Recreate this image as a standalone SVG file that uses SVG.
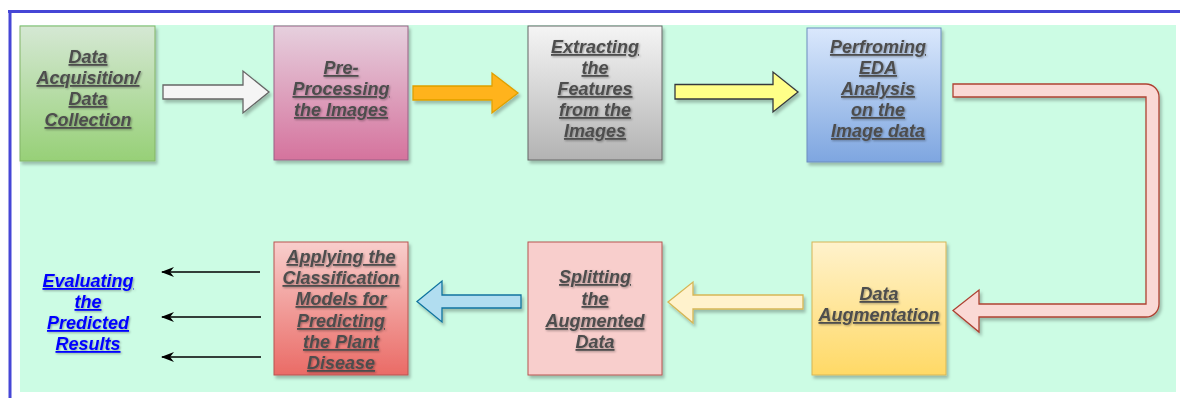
<svg xmlns="http://www.w3.org/2000/svg" width="1180" height="398" viewBox="0 0 1180 398">
<style>
.t{font-family:"Liberation Sans",Arial,sans-serif;font-size:18px;font-weight:bold;font-style:italic;text-decoration:underline;fill:#4d4d4d;text-anchor:middle;filter:url(#ts)}
.blue{fill:#0000ff}
.box{stroke-width:1;filter:url(#sh)}
.arr{stroke-width:1.3;filter:url(#sh);stroke-linejoin:miter}
.thin{stroke:#000;stroke-width:1.3;fill:none;marker-end:url(#ah)}
</style>
<defs>
<filter id="sh" x="-10%" y="-10%" width="130%" height="130%"><feDropShadow dx="2" dy="3" stdDeviation="1.5" flood-color="#000" flood-opacity="0.25"/></filter>
<filter id="ts" x="-10%" y="-20%" width="130%" height="150%"><feDropShadow dx="1" dy="1" stdDeviation="0.8" flood-color="#000" flood-opacity="0.35"/></filter>
<linearGradient id="gGreen" x1="0" y1="0" x2="0" y2="1"><stop offset="0" stop-color="#d5e8d4"/><stop offset="1" stop-color="#97d077"/></linearGradient>
<linearGradient id="gPink" x1="0" y1="0" x2="0" y2="1"><stop offset="0" stop-color="#e6d0de"/><stop offset="1" stop-color="#d5739d"/></linearGradient>
<linearGradient id="gGray" x1="0" y1="0" x2="0" y2="1"><stop offset="0" stop-color="#f5f5f5"/><stop offset="1" stop-color="#b3b3b3"/></linearGradient>
<linearGradient id="gBlue" x1="0" y1="0" x2="0" y2="1"><stop offset="0" stop-color="#dae8fc"/><stop offset="1" stop-color="#7ea6e0"/></linearGradient>
<linearGradient id="gYellow" x1="0" y1="0" x2="0" y2="1"><stop offset="0" stop-color="#fff2cc"/><stop offset="1" stop-color="#ffd966"/></linearGradient>
<linearGradient id="gRed" x1="0" y1="0" x2="0" y2="1"><stop offset="0" stop-color="#f8cecc"/><stop offset="1" stop-color="#ea6b66"/></linearGradient>
<marker id="ah" markerWidth="14" markerHeight="10" refX="12" refY="5" orient="auto" markerUnits="userSpaceOnUse" viewBox="0 0 14 10"><path d="M13,5 L0,0 L4,5 L0,10 Z" fill="#000"/></marker>
</defs>
<rect x="0" y="0" width="1180" height="398" fill="#ffffff"/>
<rect x="20" y="25" width="1156" height="367" fill="#ccfce4"/>
<g id="frame">
<line x1="8" y1="11.5" x2="1180" y2="11.5" stroke="#4646d6" stroke-width="3"/>
<line x1="10" y1="10" x2="10" y2="398" stroke="#4646d6" stroke-width="3"/>
</g>
<g id="connectors">
<path class="arr" fill="#f5f5f5" stroke="#666666" d="M163,85 L243,85 L243,71 L269,92 L243,113 L243,99 L163,99 Z"/>
<path class="arr" fill="#ffb31a" stroke="#e0a000" d="M413,86 L492,86 L492,73 L518,93 L492,113 L492,100 L413,100 Z"/>
<path class="arr" fill="#ffff88" stroke="#36393d" d="M675,84.5 L773,84.5 L773,72 L798,92 L773,112 L773,99 L675,99 Z"/>
<path class="arr" fill="#fad9d5" stroke="#ae4132" d="M953,84 L1146,84 A13,13 0 0 1 1159,97 L1159,304 A13,13 0 0 1 1146,317 L979,317 L979,332 L953,310.5 L979,290 L979,304 L1146,304 L1146,97 L953,97 Z"/>
<path class="arr" fill="#fff2cc" stroke="#d6b656" d="M803,295 L693,295 L693,282 L668,302 L693,323 L693,309 L803,309 Z"/>
<path class="arr" fill="#b1ddf0" stroke="#10739e" d="M521,295 L442,295 L442,281 L417,301.5 L442,322 L442,308 L521,308 Z"/>
<line class="thin" x1="260" y1="272" x2="162" y2="272"/>
<line class="thin" x1="261" y1="317" x2="162" y2="317"/>
<line class="thin" x1="261" y1="357" x2="162" y2="357"/>
</g>
<g id="n1">
<rect class="box" x="20" y="26" width="135" height="135" fill="url(#gGreen)" stroke="#82b366"/>
<text class="t" x="88"><tspan x="88" y="63">Data</tspan><tspan x="88" y="84">Acquisition/</tspan><tspan x="88" y="105">Data</tspan><tspan x="88" y="126">Collection</tspan></text>
</g>
<g id="n2">
<rect class="box" x="274" y="26" width="134" height="134" fill="url(#gPink)" stroke="#996185"/>
<text class="t" x="341"><tspan x="341" y="74">Pre-</tspan><tspan x="341" y="95">Processing</tspan><tspan x="341" y="116">the Images</tspan></text>
</g>
<g id="n3">
<rect class="box" x="528" y="26" width="134" height="134" fill="url(#gGray)" stroke="#666666"/>
<text class="t" x="595"><tspan x="595" y="53">Extracting</tspan><tspan x="595" y="74">the</tspan><tspan x="595" y="95">Features</tspan><tspan x="595" y="116">from the</tspan><tspan x="595" y="137">Images</tspan></text>
</g>
<g id="n4">
<rect class="box" x="807" y="28" width="134" height="134" fill="url(#gBlue)" stroke="#6c8ebf"/>
<text class="t" x="878"><tspan x="878" y="53">Perfroming</tspan><tspan x="878" y="74">EDA</tspan><tspan x="878" y="95">Analysis</tspan><tspan x="878" y="116">on the</tspan><tspan x="878" y="137">Image data</tspan></text>
</g>
<g id="n5">
<rect class="box" x="812" y="242" width="134" height="133" fill="url(#gYellow)" stroke="#d6b656"/>
<text class="t" x="879"><tspan x="879" y="300">Data</tspan><tspan x="879" y="321">Augmentation</tspan></text>
</g>
<g id="n6">
<rect class="box" x="528" y="242" width="134" height="133" fill="#f8cecc" stroke="#b85450"/>
<text class="t" x="595"><tspan x="595" y="283">Splitting</tspan><tspan x="595" y="305">the</tspan><tspan x="595" y="327">Augmented</tspan><tspan x="595" y="348">Data</tspan></text>
</g>
<g id="n7">
<rect class="box" x="274" y="242" width="134" height="133" fill="url(#gRed)" stroke="#b85450"/>
<text class="t" x="341"><tspan x="341" y="263">Applying the</tspan><tspan x="341" y="284">Classification</tspan><tspan x="341" y="305">Models for</tspan><tspan x="341" y="327">Predicting</tspan><tspan x="341" y="348">the Plant</tspan><tspan x="341" y="369">Disease</tspan></text>
</g>
<g id="n8">
<text class="t blue" x="88"><tspan x="88" y="287">Evaluating</tspan><tspan x="88" y="308">the</tspan><tspan x="88" y="329">Predicted</tspan><tspan x="88" y="350">Results</tspan></text>
</g>
</svg>
